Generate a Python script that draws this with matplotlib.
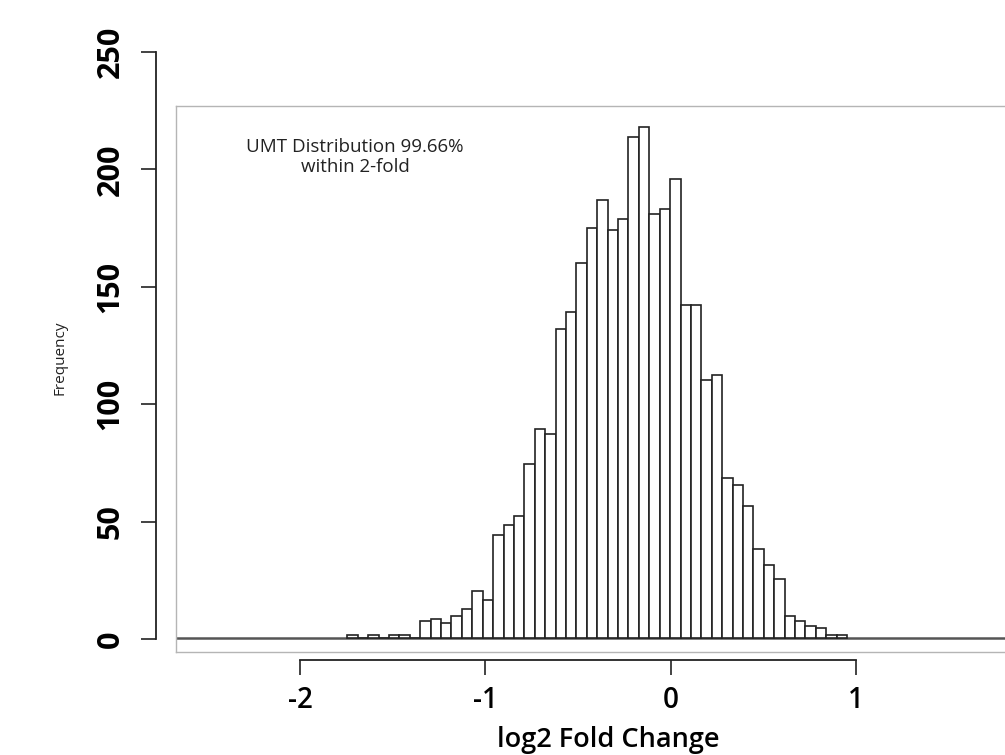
import numpy as np
import matplotlib
matplotlib.use("Agg")
import matplotlib.pyplot as plt

plt.rcParams['font.family'] = ['Open Sans', 'DejaVu Sans']

# histogram of log2 fold change, bins of 0.05 starting at -1.55
bin_start = -1.55
bin_width = 0.05
counts = [1, 0, 1, 0, 1, 1, 0, 7, 8, 6, 9, 12, 20, 16, 44, 48, 52, 74, 89, 87,
          132, 139, 160, 175, 187, 174, 179, 214, 218, 181, 183, 196, 142, 142,
          110, 112, 68, 65, 56, 38, 31, 25, 9, 7, 5, 4, 1, 1]

x_ticks = [-2, -1, 0, 1]
y_ticks = [0, 50, 100, 150, 200, 250]
note = "UMT Distribution 99.66%\nwithin 2-fold"

W, H = 1005, 755
fig = plt.figure(figsize=(W / 100, H / 100), dpi=100)

def px_box(left, top, right, bottom):
    return [left / W, 1 - bottom / H, (right - left) / W, (bottom - top) / H]

# outer frame with the axis lines and ticks
frame = fig.add_axes(px_box(156, 52, 1005, 639))
frame.patch.set_alpha(0)
frame.set_ylim(0, 250)
frame.set_xlim(-2 - 144 / 185.3, 1 + 149 / 185.3)
for s in ['top', 'right']:
    frame.spines[s].set_visible(False)
frame.spines['bottom'].set_position(('outward', 15))
frame.spines['bottom'].set_bounds(-2, 1)
frame.spines['left'].set_bounds(0, 250)
for s in ['left', 'bottom']:
    frame.spines[s].set_linewidth(1.3)
    frame.spines[s].set_color('#222222')
frame.set_xticks(x_ticks)
frame.set_xticklabels([str(t) for t in x_ticks], fontsize=20, fontweight='semibold')
frame.set_yticks(y_ticks)
frame.set_yticklabels([str(t) for t in y_ticks], fontsize=22, fontweight='bold',
                      rotation=90, va='center')
frame.tick_params(axis='both', length=11, width=1.2, color='#222222')
frame.tick_params(axis='y', pad=11)
frame.tick_params(axis='x', pad=8)
frame.set_xlabel('log2 Fold Change', fontsize=19.5, fontweight='semibold', labelpad=5)
frame.xaxis.set_label_coords((608 - 156) / 849, -0.148)

# inner histogram panel
ax = fig.add_axes(px_box(175.5, 106, 1012, 652))
ax.set_facecolor('white')
ax.set_xlim((175.5 - 670.1) / 208.2, (1012 - 670.1) / 208.2)
ax.set_ylim(-(652 - 637.5) / 2.34, (637.5 - 106) / 2.34)
for s in ax.spines.values():
    s.set_color('#b5b5b5')
    s.set_linewidth(1.0)
ax.set_xticks([])
ax.set_yticks([])

edges = bin_start + bin_width * np.arange(len(counts))
ax.axhline(0, color='#555555', lw=1.8, zorder=1)
ax.bar(edges, counts, width=bin_width, align='edge', facecolor='white',
       edgecolor='#222222', linewidth=1.2, zorder=2)

ax.text(-1.513, 205.3, note, ha='center', va='center', fontsize=13.5,
        multialignment='center', linespacing=1.15, color='#222222')

fig.text(60 / W, 1 - 358 / H, 'Frequency', rotation=90, ha='center', va='center',
         fontsize=11, color='#222222')

fig.savefig('out.png', dpi=100)
